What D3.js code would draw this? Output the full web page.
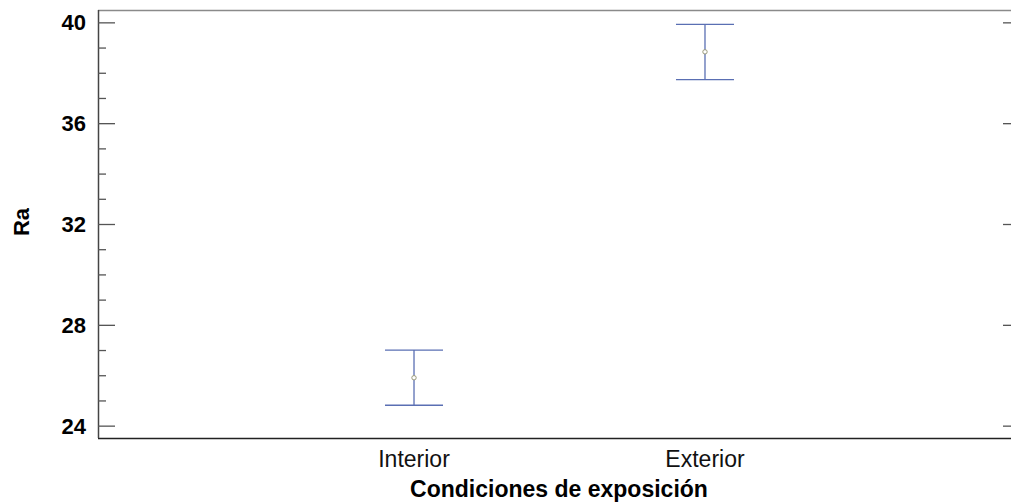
<!DOCTYPE html>
<html>
<head>
<meta charset="utf-8">
<script src="https://cdn.jsdelivr.net/npm/d3@7"></script>
<style>
  html, body { margin: 0; padding: 0; background: #fff; }
  svg { display: block; }
</style>
</head>
<body>
<svg id="chart" width="1011" height="502"></svg>
<script>
const categories = ["Interior", "Exterior"];
const means = [25.9, 38.83];
const lower = [24.81, 37.73];
const upper = [27.0, 39.92];
const yTicks = [24, 28, 32, 36, 40];
const yMinorTicks = [25, 26, 27, 29, 30, 31, 33, 34, 35, 37, 38, 39];
const xTitle = "Condiciones de exposición";
const yTitle = "Ra";

(function () {
const svg = d3.select("#chart");
const pL = 98, pR = 1021, pT = 10, pB = 438;

const x = d3.scalePoint().domain(categories).range([pL, pR]).padding(1.086);
const y = d3.scaleLinear().domain([23.51, 40.49]).range([pB, pT]);

const font = "'Liberation Sans', Arial, sans-serif";

// frame
svg.append("line").attr("x1", pL).attr("x2", pR).attr("y1", pT + 0.5).attr("y2", pT + 0.5)
  .attr("stroke", "#8a8a8a").attr("stroke-width", 1.5);
svg.append("line").attr("x1", pL).attr("x2", pR).attr("y1", pB + 0.5).attr("y2", pB + 0.5)
  .attr("stroke", "#222").attr("stroke-width", 1.5);
svg.append("line").attr("x1", pL + 0.5).attr("x2", pL + 0.5).attr("y1", pT).attr("y2", pB)
  .attr("stroke", "#444").attr("stroke-width", 1.5);
svg.append("line").attr("x1", pR - 0.5).attr("x2", pR - 0.5).attr("y1", pT).attr("y2", pB)
  .attr("stroke", "#444").attr("stroke-width", 1.5);

// left axis major ticks (inward)
const yAxisMajor = d3.axisRight(y).tickValues(yTicks).tickSize(17).tickFormat("");
const gL = svg.append("g").attr("transform", `translate(${pL},0)`).call(yAxisMajor);
gL.select(".domain").remove();
gL.selectAll(".tick line").attr("stroke", "#555").attr("stroke-width", 1.3);

const yAxisMinor = d3.axisRight(y).tickValues(yMinorTicks).tickSize(8).tickFormat("");
const gLm = svg.append("g").attr("transform", `translate(${pL},0)`).call(yAxisMinor);
gLm.select(".domain").remove();
gLm.selectAll(".tick line").attr("stroke", "#555").attr("stroke-width", 1.3);

// right axis major ticks (inward)
const yAxisRight = d3.axisLeft(y).tickValues(yTicks).tickSize(18).tickFormat("");
const gR = svg.append("g").attr("transform", `translate(${pR},0)`).call(yAxisRight);
gR.select(".domain").remove();
gR.selectAll(".tick line").attr("stroke", "#555").attr("stroke-width", 1.3);

// y tick labels
svg.append("g").selectAll("text").data(yTicks).join("text")
  .attr("x", 86).attr("y", d => y(d)).attr("dy", "0.36em")
  .attr("text-anchor", "end")
  .attr("font-family", font).attr("font-weight", "bold").attr("font-size", 22)
  .attr("fill", "#000").text(d => d);

// x category labels
svg.append("g").selectAll("text").data(categories).join("text")
  .attr("x", d => x(d)).attr("y", 467)
  .attr("text-anchor", "middle")
  .attr("font-family", font).attr("font-size", 23)
  .attr("fill", "#111").text(d => d);

// titles
svg.append("text").attr("x", 559).attr("y", 497).attr("text-anchor", "middle")
  .attr("font-family", font).attr("font-weight", "bold").attr("font-size", 23)
  .attr("fill", "#000").text(xTitle);
svg.append("text").attr("transform", "translate(29,222) rotate(-90)").attr("text-anchor", "middle")
  .attr("font-family", font).attr("font-weight", "bold").attr("font-size", 22)
  .attr("fill", "#000").text(yTitle);

// error bars
const color = "#5a6fb3";
const capHalf = 29;
const bars = svg.append("g");
categories.forEach((c, i) => {
  const cx = x(c);
  bars.append("line").attr("x1", cx).attr("x2", cx).attr("y1", y(upper[i])).attr("y2", y(lower[i]))
    .attr("stroke", color).attr("stroke-width", 1.3);
  bars.append("line").attr("x1", cx - capHalf).attr("x2", cx + capHalf).attr("y1", y(upper[i])).attr("y2", y(upper[i]))
    .attr("stroke", color).attr("stroke-width", 1.3);
  bars.append("line").attr("x1", cx - capHalf).attr("x2", cx + capHalf).attr("y1", y(lower[i])).attr("y2", y(lower[i]))
    .attr("stroke", color).attr("stroke-width", 1.3);
  bars.append("circle").attr("cx", cx).attr("cy", y(means[i])).attr("r", 2.2)
    .attr("fill", "#fff").attr("stroke", "#9a9a7a").attr("stroke-width", 1);
});
})();
</script>
</body>
</html>
